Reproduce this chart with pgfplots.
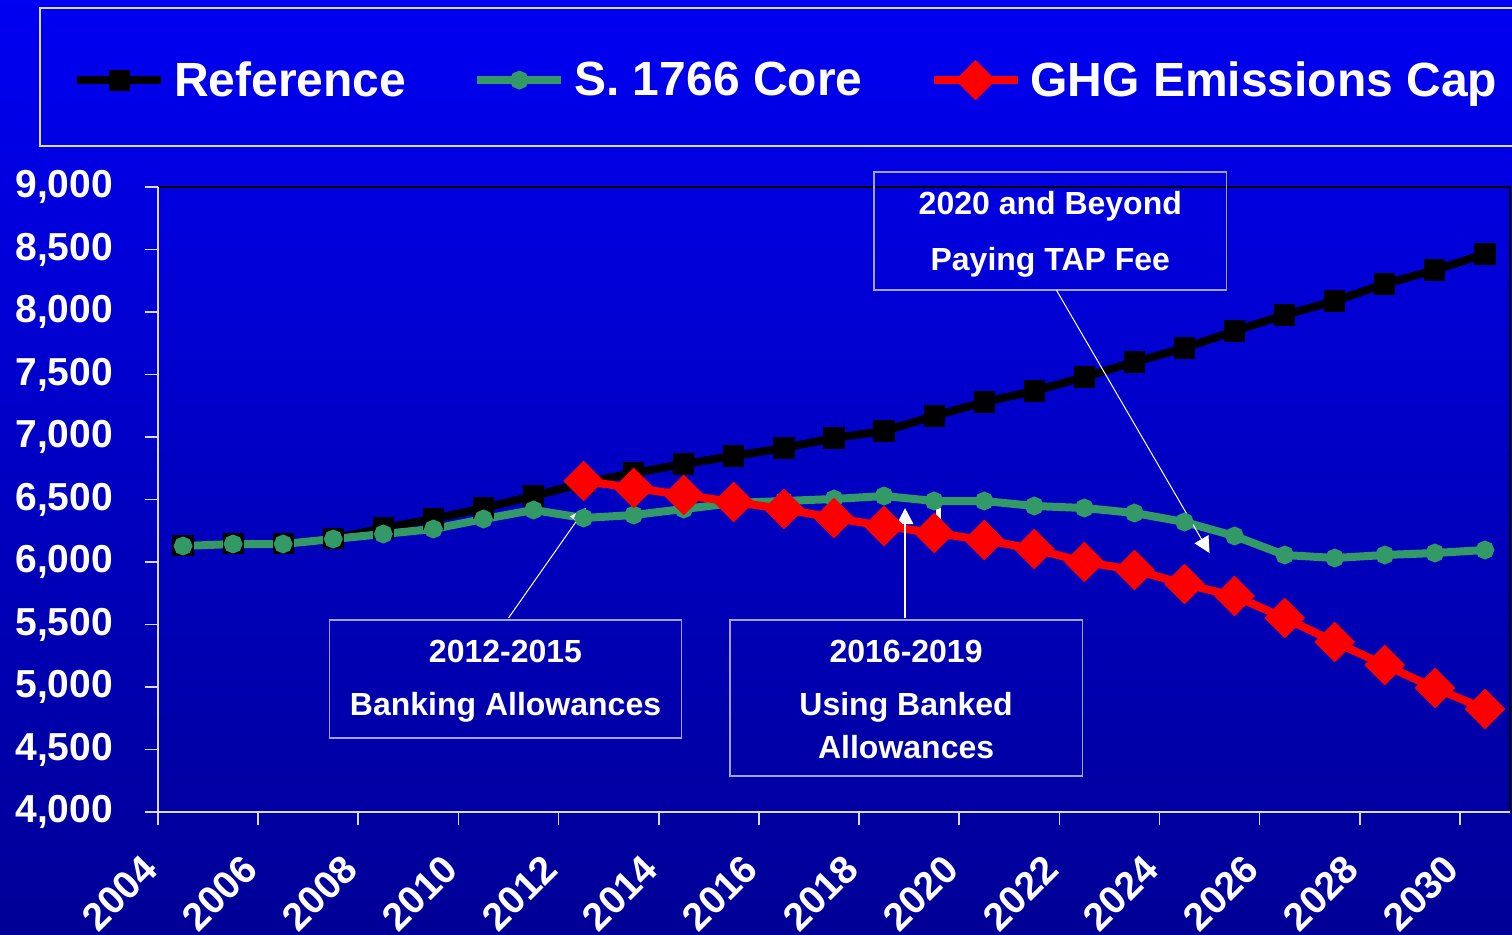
\documentclass[border=0pt]{standalone}
\usepackage{pgfplots}
\pgfplotsset{compat=1.18}
\usepackage{fontspec}
\setmainfont{Liberation Sans}
\usetikzlibrary{arrows.meta}
\definecolor{bgtop}{RGB}{0,0,242}
\definecolor{bgbot}{RGB}{0,0,150}
\definecolor{coregreen}{RGB}{51,153,102}
\definecolor{capred}{RGB}{255,0,0}
\definecolor{boxline}{RGB}{160,160,255}

\pgfplotstableread{
x  ref
0  6130
1  6145
2  6145
3  6185
4  6272
5  6344
6  6432
7  6528
8  6632
9  6712
10 6784
11 6848
12 6912
13 6992
14 7048
15 7168
16 7280
17 7368
18 7480
19 7600
20 7712
21 7848
22 7976
23 8088
24 8224
25 8336
26 8464
}\refdata

\pgfplotstableread{
x  core
0  6128
1  6144
2  6144
3  6184
4  6224
5  6264
6  6344
7  6416
8  6352
9  6376
10 6424
11 6472
12 6488
13 6504
14 6528
15 6488
16 6488
17 6448
18 6432
19 6392
20 6320
21 6208
22 6056
23 6032
24 6056
25 6072
26 6096
}\coredata

\pgfplotstableread{
x  cap
8  6648
9  6592
10 6536
11 6480
12 6424
13 6352
14 6288
15 6232
16 6176
17 6104
18 6000
19 5936
20 5824
21 5728
22 5552
23 5360
24 5176
25 4992
26 4824
}\capdata

\begin{document}
\begin{tikzpicture}[x=1pt,y=1pt]
\shade[top color=bgtop, bottom color=bgbot] (0,0) rectangle (756,467);
\path[use as bounding box] (0,0) rectangle (756,467);
\begin{axis}[
  at={(79pt,61pt)}, anchor=south west,
  scale only axis, width=676pt, height=312.5pt,
  xmin=-0.5, xmax=26.5, ymin=4000, ymax=9000,
  clip=false,
  axis lines=left, axis line style={-, white!85!blue, line width=1pt},
  axis background/.style={draw=black, line width=1pt},
  tick align=outside, major tick length=6.5pt,
  tick style={white!85!blue, line width=0.8pt},
  xtick={-0.5,1.5,...,25.5},
  xticklabels={2004,2006,2008,2010,2012,2014,2016,2018,2020,2022,2024,2026,2028,2030},
  ytick={4000,4500,...,9000},
  /pgf/number format/assume math mode=true,
  /pgf/number format/1000 sep={,},
  ticklabel style={font=\bfseries\fontsize{19.5}{20}\selectfont, text=white},
  yticklabel style={anchor=east, xshift=-12.5pt},
  xticklabel style={anchor=east, inner sep=0pt, xshift=-3.9pt, yshift=-18.6pt, rotate=45},
  legend style={draw=none, fill=none, at={(-0.063,1.171)}, anchor=west,
    inner sep=0pt, legend columns=3, text=white,
    font=\bfseries\fontsize{24}{28}\selectfont,
    nodes={inner xsep=4.5pt},
    /tikz/every even column/.append style={column sep=29pt}},
  legend image code/.code={\draw[mark repeat=2,mark phase=2,#1] plot coordinates {(0pt,0pt) (21pt,0pt) (42pt,0pt)};},
]
\addplot[black, line width=4pt, mark=square*, mark size=3.3pt, mark options={solid}] table[x=x, y=ref] {\refdata};
\addlegendentry{Reference}
\addplot[coregreen, line width=4pt, mark=*, mark size=2.6pt] table[x=x, y=core] {\coredata};
\addlegendentry{S. 1766 Core}
\addplot[capred, line width=4pt, mark=square*, mark size=5.2pt, mark options={rotate=45}] table[x=x, y=cap] {\capdata};
\addlegendentry{GHG Emissions Cap}

% legend frame
\draw[white!85!blue, line width=0.8pt] (axis description cs:-0.0873,1.0656) rectangle (axis description cs:1.03,1.2864);

% annotation boxes
\draw[boxline, line width=0.7pt] (axis cs:13.8,9120) rectangle (axis cs:20.84,8176);
\node[text=white, font=\bfseries\fontsize{16}{18}\selectfont] at (axis cs:17.32,8848) {2020 and Beyond};
\node[text=white, font=\bfseries\fontsize{16}{18}\selectfont] at (axis cs:17.32,8400) {Paying TAP Fee};
\draw[white, line width=0.5pt, -{Triangle[width=8pt,length=8pt]}] (axis cs:17.44,8176) -- (axis cs:20.5,6072);

\draw[boxline, line width=0.7pt] (axis cs:2.92,5536) rectangle (axis cs:9.96,4592);
\node[text=white, font=\bfseries\fontsize{16}{18}\selectfont] at (axis cs:6.44,5288) {2012-2015};
\node[text=white, font=\bfseries\fontsize{16}{18}\selectfont] at (axis cs:6.44,4840) {Banking Allowances};
\draw[white, line width=0.5pt, -{Triangle[width=8pt,length=8pt]}] (axis cs:6.5,5552) -- (axis cs:8.04,6432);

\draw[boxline, line width=0.7pt] (axis cs:10.92,5536) rectangle (axis cs:17.96,4288);
\node[text=white, font=\bfseries\fontsize{16}{18}\selectfont] at (axis cs:14.44,5288) {2016-2019};
\node[text=white, font=\bfseries\fontsize{16}{18}\selectfont] at (axis cs:14.44,4840) {Using Banked};
\node[text=white, font=\bfseries\fontsize{16}{18}\selectfont] at (axis cs:14.44,4520) {Allowances};
\draw[white, line width=1.2pt, -{Triangle[width=8pt,length=8pt]}] (axis cs:14.42,5552) -- (axis cs:14.42,6432);
\fill[white] (axis cs:15.03,6432) rectangle (axis cs:15.14,6312);
\end{axis}
\end{tikzpicture}
\end{document}
